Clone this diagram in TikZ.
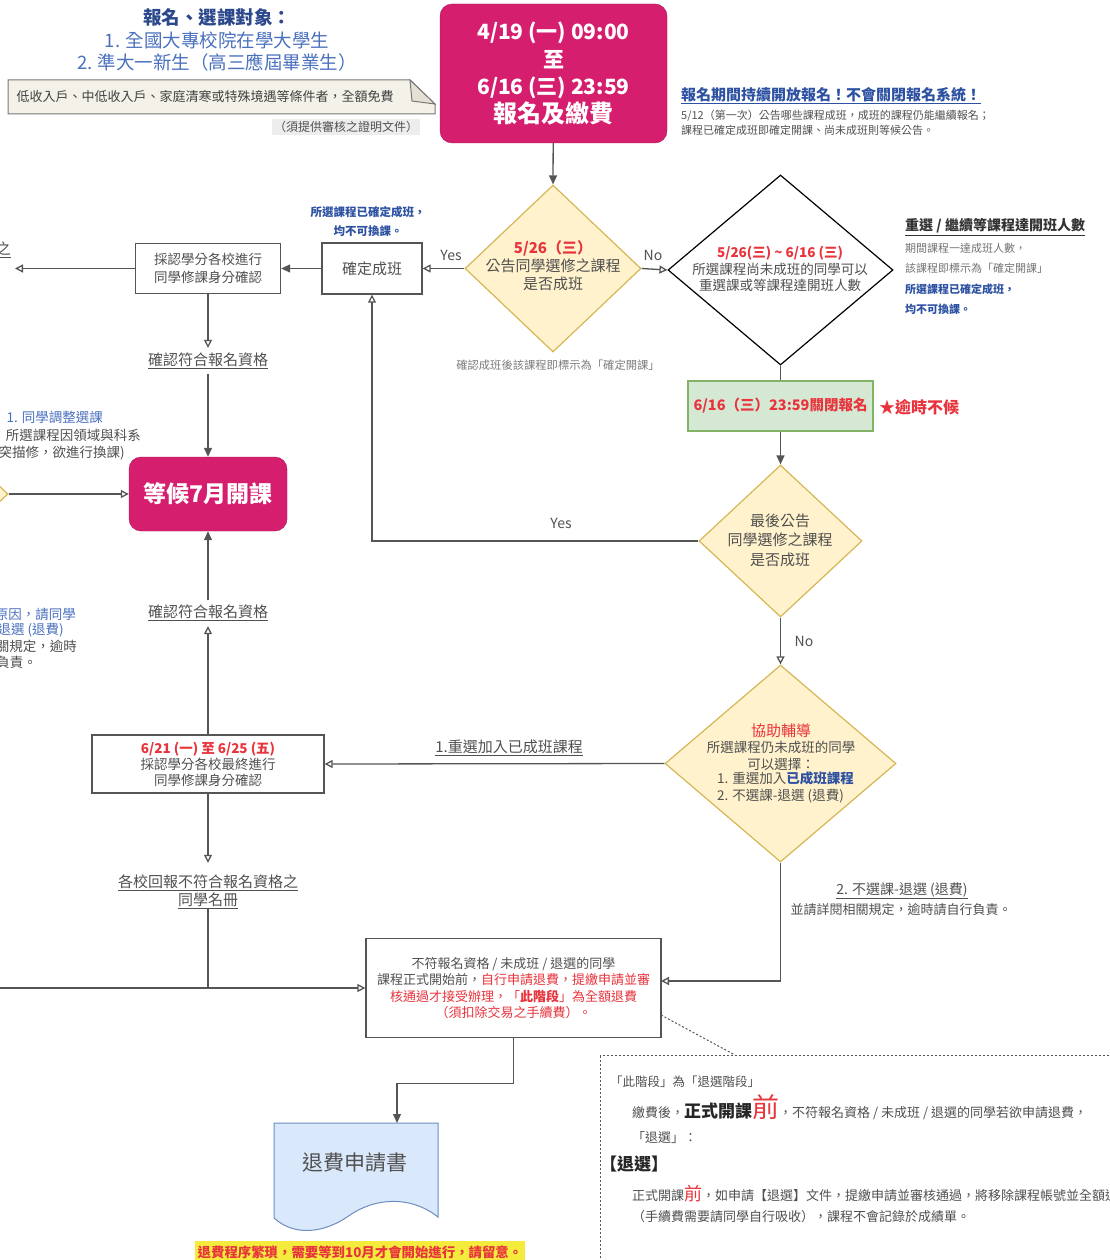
\documentclass[tikz,border=0pt]{standalone}
\usepackage{fontspec}
\setmainfont{Noto Sans CJK TC}
\usetikzlibrary{shapes.geometric,arrows.meta}

\definecolor{linegray}{RGB}{85,85,85}
\definecolor{textgray}{RGB}{80,80,80}
\definecolor{darkblue}{RGB}{44,72,140}
\definecolor{lightblue}{RGB}{74,112,190}
\definecolor{boldblue}{RGB}{46,82,162}
\definecolor{alertred}{RGB}{232,52,60}
\definecolor{pinkfill}{RGB}{214,30,110}
\definecolor{decfill}{RGB}{255,242,204}
\definecolor{decborder}{RGB}{214,182,86}
\definecolor{greenfill}{RGB}{213,232,212}
\definecolor{greenborder}{RGB}{130,179,102}
\definecolor{docfill}{RGB}{218,232,252}
\definecolor{docborder}{RGB}{108,142,191}
\definecolor{notefill}{RGB}{244,242,232}
\definecolor{foldfill}{RGB}{228,225,212}
\definecolor{warnfill}{RGB}{245,235,60}

\newcommand\fsz[2]{\fontsize{#1}{#2}\selectfont}

\tikzset{
  line/.style={draw=linegray, line width=1.3pt},
  openarrow/.style={line, -{Triangle[open,length=8pt,width=8pt]}},
  fullarrow/.style={line, -{Triangle[length=9pt,width=8pt]}},
  decision/.style={diamond, draw=decborder, fill=decfill, line width=1.2pt, inner sep=0pt},
  stepbox/.style={rectangle, draw=linegray, line width=1.3pt, fill=white, inner sep=0pt, align=center, text=textgray},
  pinkbox/.style={rectangle, rounded corners=12pt, fill=pinkfill, draw=pinkfill!80!black, inner sep=0pt, align=center, text=white},
  txt/.style={inner sep=0pt, align=center, text=textgray},
  cut/.style={anchor=east, inner sep=0pt, font=\fsz{13.5}{16}, text=textgray},
}

\begin{document}
\begin{tikzpicture}[x=1pt,y=-1pt]
  \useasboundingbox (0,0) rectangle (1110,1260);
  \clip (0,0) rectangle (1110,1260);

  % header
  \node[txt, font=\fsz{18.5}{22.5}] (title) at (217,40) {\textcolor{darkblue}{\bfseries 報名、選課對象：}\\\textcolor{lightblue}{1. 全國大專校院在學大學生}\\\textcolor{lightblue}{2. 準大一新生（高三應屆畢業生）}};
  \draw[draw=linegray!80, fill=notefill, line width=1pt] (8,80) -- (410,80) -- (435,104) -- (435,114) -- (8,114) -- cycle;
  \draw[draw=linegray!80, fill=foldfill, line width=1pt] (410,80) -- (412,101) -- (435,104) -- cycle;
  \node[txt, font=\fsz{13}{15}, text=textgray!80!black] (notetxt) at (205,97) {低收入戶、中低收入戶、家庭清寒或特殊境遇等條件者，全額免費};
  \node[txt, fill=black!7, inner sep=2pt, font=\fsz{12}{14}] (proof) at (346,127) {（須提供審核之證明文件）};

  \node[pinkbox, minimum width=227pt, minimum height=139pt, font=\bfseries\fsz{21}{27.5}] (enroll) at (553.5,73.5) {4/19 (一)\ 09:00\\至\\6/16 (三)\ 23:59\\{\fsz{24}{27.5}報名及繳費}};
  \node[anchor=west, inner sep=0pt, font=\bfseries\fsz{15}{18}, text=boldblue] (openreg) at (681,96) {\underline{報名期間持續開放報名！不會關閉報名系統！}};
  \node[anchor=north west, inner sep=0pt, align=left, font=\fsz{11}{15}, text=textgray] (openinfo) at (681,110) {5/12（第一次）公告哪些課程成班，成班的課程仍能繼續報名；\\課程已確定成班即確定開課、尚未成班則等候公告。};

  % first check
  \node[decision, minimum width=176pt, minimum height=167pt] (d1) at (553,268.5) {};
  \node[txt, font=\fsz{15}{18}] (d1t) at (553,266) {\textcolor{alertred}{\bfseries 5/26（三）}\\公告同學選修之課程\\是否成班};
  \node[decision, draw=black, fill=white, minimum width=225pt, minimum height=190pt] (d2) at (780.5,270) {};
  \node[txt, font=\fsz{13.5}{16.5}] (d2t) at (780,269) {\textcolor{alertred}{\bfseries 5/26(三) \symbol{"7E} 6/16 (三)}\\所選課程尚未成班的同學可以\\重選課或等課程達開班人數};
  \node[anchor=west, inner sep=0pt, font=\bfseries\fsz{14}{17}, text=black!80] (redo) at (905,227) {\underline{重選 / 繼續等課程達開班人數}};
  \node[anchor=north west, inner sep=0pt, align=left, font=\fsz{11}{20.5}, text=textgray!80] (redoinfo) at (905,243) {期間課程一達成班人數，\\該課程即標示為「確定開課」\\\textcolor{boldblue}{\bfseries 所選課程已確定成班，}\\\textcolor{boldblue}{\bfseries 均不可換課。}};
  \node[txt, font=\fsz{14}{16}] (yes1) at (451,255) {Yes};
  \node[txt, font=\fsz{14}{16}] (no1) at (653,255) {No};
  \node[txt, font=\fsz{11.3}{14}, text=textgray!75] (note1) at (558,365) {確認成班後該課程即標示為「確定開課」};

  \node[stepbox, minimum width=100pt, minimum height=51pt, font=\fsz{15}{18}] (fixed) at (372,268.5) {確定成班};
  \node[txt, font=\bfseries\fsz{11.5}{19}, text=boldblue] (fixednote) at (368,222) {所選課程已確定成班，\\均不可換課。};
  \node[stepbox, minimum width=145pt, minimum height=50pt, font=\fsz{13.5}{18}] (credit) at (208,268.5) {採認學分各校進行\\同學修課身分確認};
  \coordinate (exitL) at (15,268.5);
  \node[cut, font=\fsz{15}{18}] (cutA) at (11,250) {\underline{之}};
  \node[txt, font=\fsz{15}{18}, inner sep=5pt] (ok1) at (208,361) {\underline{確認符合報名資格}};

  % closing
  \node[rectangle, draw=greenborder, fill=greenfill, line width=1.2pt, minimum width=185pt, minimum height=50pt, font=\bfseries\fsz{14.5}{17}, text=alertred] (close) at (780.5,406) {6/16（三）23:59關閉報名};
  \node[anchor=west, inner sep=0pt, font=\bfseries\fsz{16}{18}, text=alertred] (late) at (879,407) {★逾時不候};
  \node[decision, minimum width=163pt, minimum height=152pt] (d3) at (780.5,541) {};
  \node[txt, font=\fsz{15}{19.5}] (d3t) at (780,540) {最後公告\\同學選修之課程\\是否成班};
  \node[txt, font=\fsz{14}{16}] (yes2) at (561,523) {Yes};
  \node[txt, font=\fsz{14}{16}] (no2) at (804,641) {No};

  \node[decision, minimum width=231pt, minimum height=197pt] (d4) at (780.5,763.5) {};
  \node[txt, font=\fsz{13.5}{16.5}] (d4t) at (781,747) {\textcolor{alertred}{\fsz{15}{16.5}協助輔導}\\所選課程仍未成班的同學\\可以選擇：};
  \node[anchor=west, inner sep=0pt, align=left, font=\fsz{13.5}{16.5}, text=textgray] (d4list) at (717,787.5) {1. 重選加入\textcolor{boldblue}{\bfseries 已成班課程}\\2. 不選課-退選 (退費)};

  % waiting
  \node[pinkbox, minimum width=158pt, minimum height=74pt, font=\bfseries\fsz{23}{26}] (wait) at (208,494) {等候7月開課};
  \node[decision, minimum width=176pt, minimum height=167pt] (d0) at (-80,494) {};
  \node[cut, text=lightblue] (cutB) at (103,417) {1. 同學調整選課};
  \node[cut] (cutC) at (141,435) {所選課程因領域與科系};
  \node[cut] (cutD) at (125,453) {突描修，欲進行換課)};
  \node[cut, text=lightblue] (cutE) at (76,614) {原因，請同學};
  \node[cut, text=lightblue] (cutF) at (64,630) {退選 (退費)};
  \node[cut] (cutG) at (77,646) {關規定，逾時};
  \node[cut] (cutH) at (37,662) {行負責。};
  \node[txt, font=\fsz{15}{18}, inner sep=5pt] (ok2) at (208,613) {\underline{確認符合報名資格}};

  \node[stepbox, minimum width=232pt, minimum height=58pt, font=\fsz{13.5}{16}] (final) at (208,764) {\textcolor{alertred}{\bfseries 6/21 (一) 至 6/25 (五)}\\採認學分各校最終進行\\同學修課身分確認};
  \node[txt, font=\fsz{15}{18}, inner sep=3pt] (rejoin) at (509,748) {\underline{1.重選加入已成班課程}};
  \node[txt, font=\fsz{15}{18}] (roster) at (208,892) {\underline{各校回報不符合報名資格之}\\\underline{同學名冊}};

  % refund
  \node[stepbox, minimum width=295pt, minimum height=99pt, font=\fsz{13}{16.3}] (refund) at (513.5,988) {不符報名資格 / 未成班 / 退選的同學\\課程正式開始前，\textcolor{alertred}{自行申請退費，提繳申請並審}\\\textcolor{alertred}{核通過才接受辦理，「\textbf{此階段}」為全額退費}\\\textcolor{alertred}{（須扣除交易之手續費）。}};
  \node[txt, font=\fsz{14}{17}] (drop) at (902,891) {\underline{2. 不選課-退選 (退費)}};
  \node[txt, font=\fsz{13}{15}] (dropinfo) at (901,910) {並請詳閱相關規定，逾時請自行負責。};
  \coordinate (joinB) at (208,988);
  \coordinate (exitB) at (0,988);
  \coordinate (refundIn) at (661,981);
  \coordinate (refundDot) at (661,1015);
  \coordinate (stageTop) at (735,1055);
  \coordinate (docin) at (397,1123);

  \node[draw=linegray, dash pattern=on 2pt off 2pt, line width=1pt, minimum width=540pt, minimum height=240pt, anchor=north west, inner sep=0pt] (stage) at (600,1055) {};
  \node[anchor=west, inner sep=0pt, font=\fsz{12.5}{15}, text=textgray] (s1) at (610,1082) {「此階段」為「退選階段」};
  \node[anchor=base west, inner sep=0pt, font=\fsz{13}{15}, text=textgray] (s2) at (632,1117) {繳費後，{\bfseries\fsz{17}{18}\color{black!85}正式開課}{\fsz{27}{28}\color{alertred}前}，不符報名資格 / 未成班 / 退選的同學若欲申請退費，};
  \node[anchor=west, inner sep=0pt, font=\fsz{13}{15}, text=textgray] (s3) at (632,1138) {「退選」：};
  \node[anchor=west, inner sep=0pt, font=\bfseries\fsz{17}{19}, text=black!85] (s4) at (600,1164) {【退選】};
  \node[anchor=base west, inner sep=0pt, font=\fsz{13}{15}, text=textgray] (s5) at (632,1200) {正式開課{\fsz{18}{18}\color{alertred}前}，如申請【退選】文件，提繳申請並審核通過，將移除課程帳號並全額退費};
  \node[anchor=west, inner sep=0pt, font=\fsz{13}{15}, text=textgray] (s6) at (632,1217) {（手續費需要請同學自行吸收），課程不會記錄於成績單。};

  \draw[draw=docborder, fill=docfill, line width=1pt] (274,1123) -- (438,1123) -- (438,1217) .. controls (410,1195) and (375,1198) .. (350,1215) .. controls (325,1233) and (295,1237) .. (274,1218) -- cycle;
  \node[txt, font=\fsz{21}{24}] (doctxt) at (355,1163) {退費申請書};
  \node[fill=warnfill, inner sep=3pt, minimum width=322pt, minimum height=22pt, font=\bfseries\fsz{13.4}{16}, text=alertred] (warn) at (360,1252) {退費程序繁瑣，需要等到10月才會開始進行，請留意。};

  % connectors
  \draw[fullarrow] (enroll) -- (d1.north);
  \draw[openarrow] (d1.east) -- (d2.west);
  \draw[openarrow] (d1.west) -- (fixed.east);
  \draw[fullarrow] (fixed.west) -- (credit.east);
  \draw[openarrow] (credit.west) -- (exitL);
  \draw[openarrow] (credit.south) -- (ok1.north);
  \draw[fullarrow] (ok1.south) -- (wait.north);
  \draw[line] (d2.south) -- (close.north);
  \draw[fullarrow] (close.south) -- (d3.north);
  \draw[openarrow] (d3.west) -| (fixed.south);
  \draw[openarrow] (d3.south) -- (d4.north);
  \draw[openarrow] (d4.west) -- (final.east);
  \draw[openarrow] (final.north) -- (ok2.south);
  \draw[fullarrow] (ok2.north) -- (wait.south);
  \draw[openarrow] (d0.east) -- (wait.west);
  \draw[openarrow, shorten >=12pt] (final.south) -- (roster.north);
  \draw[line] (roster.south) -- (joinB);
  \draw[openarrow] (exitB) -- (refund.west);
  \draw[openarrow] (d4.south) |- (refundIn);
  \draw[draw=linegray, dash pattern=on 2pt off 2pt, line width=1pt] (refundDot) -- (stageTop);
  \draw[fullarrow] (refund.south) -- ++(0,45) -| (docin);
\end{tikzpicture}
\end{document}
